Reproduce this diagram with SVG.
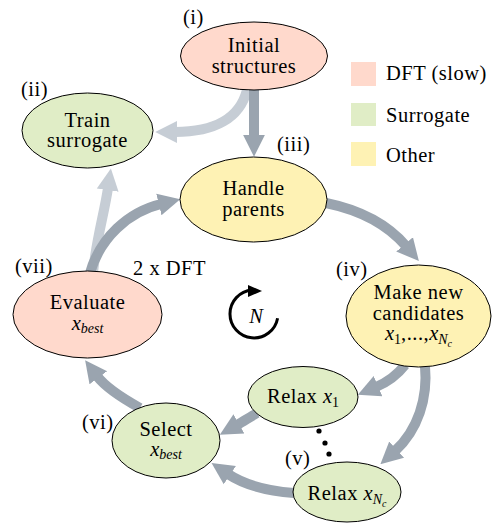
<svg xmlns="http://www.w3.org/2000/svg" width="492" height="523" viewBox="0 0 492 523" font-family="'Liberation Serif', 'DejaVu Serif', 'Times New Roman', Times, serif">
  <style>
    text { font-family: 'Liberation Serif', 'DejaVu Serif', 'Times New Roman', Times, serif; font-size: 20.5px; letter-spacing: 0.5px; fill: #000; }
    .c { text-anchor: middle; }
    .m { font-style: italic; letter-spacing: 0; }
    .sub { font-size: 14px; letter-spacing: 0; }
    .subsub { font-size: 10px; }
    .node { stroke: #000; stroke-width: 1; }
    .dft { fill: #FFD9CC; }
    .sur { fill: #E0EDC6; }
    .oth { fill: #FEF2B4; }
    .arr { fill: none; stroke: #9AA4AF; stroke-width: 10; marker-end: url(#headDark); }
    .arr.light { stroke: #C6CDD5; marker-end: url(#headLight); }
  </style>
  <defs>
    <marker id="headDark" viewBox="0 0 10 10" refX="1" refY="5" markerWidth="2.2" markerHeight="2.4" orient="auto">
      <path d="M0,0 L10,5 L0,10 z" fill="#9AA4AF"/>
    </marker>
    <marker id="headLight" viewBox="0 0 10 10" refX="1" refY="5" markerWidth="2.2" markerHeight="2.4" orient="auto">
      <path d="M0,0 L10,5 L0,10 z" fill="#C6CDD5"/>
    </marker>
  </defs>

  <rect width="492" height="523" fill="#fff"/>

  <!-- connectors -->
  <g id="connectors">
    <path class="arr light" d="M247,90 C240,118 215,132 175,132"/>
    <path class="arr light" d="M93,273 C96,240 104,215 108,188"/>
    <path class="arr" d="M254,89 L254,137"/>
    <path class="arr" d="M326,203 C360,210 388,225 406,246"/>
    <path class="arr" d="M405,365 C398,374 390,381 376,387"/>
    <path class="arr" d="M425,366 C428,398 418,430 395,451"/>
    <path class="arr" d="M257,413 C250,417 244,421 237,425"/>
    <path class="arr" d="M294,493 C268,491 246,486 228,474"/>
    <path class="arr" d="M140,408 C122,398 106,388 97,376"/>
    <path class="arr" d="M90,273 C100,238 128,212 161,204"/>
  </g>

  <!-- nodes -->
  <g id="initial">
    <ellipse class="node dft" cx="254" cy="56" rx="73.5" ry="34"/>
    <text class="c" x="254" y="52">Initial</text>
    <text class="c" x="254" y="73">structures</text>
    <text x="183" y="24">(i)</text>
  </g>
  <g id="train">
    <ellipse class="node sur" cx="87.5" cy="130.5" rx="65.5" ry="37.5"/>
    <text class="c" x="87.5" y="127">Train</text>
    <text class="c" x="87.5" y="147">surrogate</text>
    <text x="21" y="96">(ii)</text>
  </g>
  <g id="handle">
    <ellipse class="node oth" cx="253.5" cy="199.5" rx="73.5" ry="42.5"/>
    <text class="c" x="253.5" y="195">Handle</text>
    <text class="c" x="253.5" y="216">parents</text>
    <text x="277" y="151">(iii)</text>
  </g>
  <g id="candidates">
    <ellipse class="node oth" cx="418.5" cy="316" rx="72.5" ry="51"/>
    <text class="c" x="418.5" y="299">Make new</text>
    <text class="c" x="418.5" y="320">candidates</text>
    <text class="c" x="418.5" y="340"><tspan class="m">x</tspan><tspan class="sub" dy="4">1</tspan><tspan dy="-4">,...,</tspan><tspan class="m">x</tspan><tspan class="sub m" dy="4">N</tspan><tspan class="subsub m" dy="3">c</tspan></text>
    <text x="336" y="276">(iv)</text>
  </g>
  <g id="relax1">
    <ellipse class="node sur" cx="303" cy="397" rx="55" ry="30.5"/>
    <text class="c" x="303" y="403">Relax <tspan class="m">x</tspan><tspan class="sub" dy="4">1</tspan></text>
  </g>
  <g id="relaxN">
    <ellipse class="node sur" cx="347" cy="492" rx="54" ry="30"/>
    <text class="c" x="347" y="500">Relax <tspan class="m">x</tspan><tspan class="sub m" dy="4">N</tspan><tspan class="subsub m" dy="3">c</tspan></text>
    <text x="285" y="465">(v)</text>
  </g>
  <g id="dots">
    <circle cx="319" cy="431" r="2.6"/>
    <circle cx="325" cy="443" r="2.6"/>
    <circle cx="329" cy="454" r="2.6"/>
  </g>
  <g id="select">
    <ellipse class="node sur" cx="166" cy="440.5" rx="54" ry="37.5"/>
    <text class="c" x="166" y="436">Select</text>
    <text class="c" x="166" y="456"><tspan class="m">x</tspan><tspan class="sub m" dy="3">best</tspan></text>
    <text x="82" y="429">(vi)</text>
  </g>
  <g id="evaluate">
    <ellipse class="node dft" cx="87.5" cy="314.5" rx="74.5" ry="43.5"/>
    <text class="c" x="87.5" y="309">Evaluate</text>
    <text class="c" x="87.5" y="330"><tspan class="m">x</tspan><tspan class="sub m" dy="3">best</tspan></text>
    <text x="15" y="273">(vii)</text>
  </g>
  <text x="133" y="275">2 x DFT</text>

  <!-- iteration symbol -->
  <g id="loop">
    <path d="M277.6,318.2 A24,24 0 1 1 252,290" fill="none" stroke="#000" stroke-width="3"/>
    <path d="M248,285 L262,291 L248,297 z" fill="#000"/>
    <text class="c m" x="256" y="323">N</text>
  </g>

  <!-- legend -->
  <g id="legend">
    <rect class="dft" x="351" y="62" width="25" height="24"/>
    <text x="386" y="80">DFT (slow)</text>
    <rect class="sur" x="351" y="103" width="25" height="23"/>
    <text x="386" y="122">Surrogate</text>
    <rect class="oth" x="351" y="142" width="25" height="24"/>
    <text x="386" y="162">Other</text>
  </g>
</svg>
